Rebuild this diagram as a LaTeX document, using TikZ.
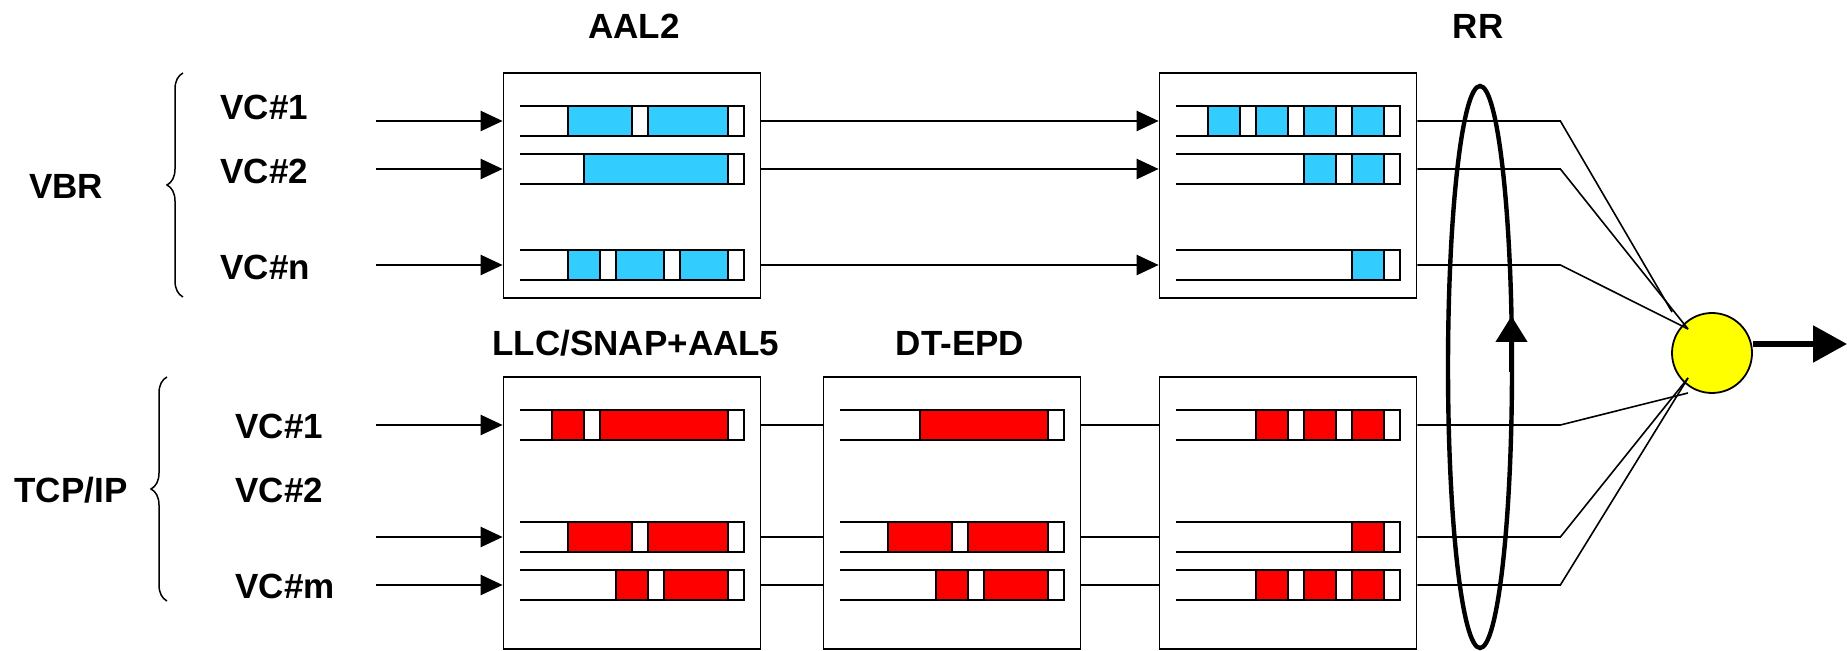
\documentclass[tikz,border=0pt]{standalone}
\usepackage{fontspec}
\setmainfont{Liberation Sans}
\usepackage{tikz}
\usetikzlibrary{arrows.meta,positioning,calc,decorations.pathreplacing}

\definecolor{cellblue}{HTML}{33CCFF}
\definecolor{cellred}{HTML}{FF0000}
\definecolor{muxyellow}{HTML}{FFFF00}

% buffer: right end x, centre y, busy cells as from/to (counted from the right), fill
\newcommand{\drawbuf}[4]{%
  \foreach \a/\b in {#3}
    \draw[cell,fill=#4] (#1-16*\a,#2-15) rectangle (#1-16*\b,#2+15);
  \draw[bufline] (#1-224,#2-15) -- (#1,#2-15) -- (#1,#2+15) -- (#1-224,#2+15);
}

\begin{document}
\begin{tikzpicture}[x=0.5pt,y=-0.5pt,
    lbl/.style={font=\bfseries\fontsize{17.5pt}{21pt}\selectfont,text height=12.5pt,text depth=0pt,inner sep=0pt},
    blk/.style={draw,line width=0.85pt,minimum width=128.5pt,inner sep=0pt},
    cell/.style={draw,line width=0.9pt},
    bufline/.style={line width=1.35pt},
    feed/.style={line width=1.15pt},
    into/.style={feed,-{Triangle[length=11pt,width=10pt]}},
    fan/.style={line width=0.8pt}]

    \useasboundingbox (0,0) rectangle (1847,651);

    % traffic classes
    \node[lbl] (vbr) at (66,186) {VBR};
    \node[lbl] (tcp) at (71,490) {TCP/IP};
    \draw[decorate,decoration={brace,amplitude=8pt},line width=0.75pt] (183,297) -- (183,73);
    \draw[decorate,decoration={brace,amplitude=8pt},line width=0.75pt] (167,601) -- (167,377);

    \node[lbl,anchor=west] (va1) at (220,107) {VC\#1};
    \node[lbl,anchor=west] (va2) at (220,171) {VC\#2};
    \node[lbl,anchor=west] (van) at (220,267) {VC\#n};
    \node[lbl,anchor=west] (vb1) at (235,426) {VC\#1};
    \node[lbl,anchor=west] (vb2) at (235,490) {VC\#2};
    \node[lbl,anchor=west] (vbm) at (235,586) {VC\#m};

    % stages
    \node[blk,minimum height=112.5pt] (aal2) at (632,185.5) {};
    \node[blk,minimum height=112.5pt] (rrv)  at (1288,185.5) {};
    \node[blk,minimum height=136pt]   (llc)  at (632,513) {};
    \node[blk,minimum height=136pt]   (epd)  at (952,513) {};
    \node[blk,minimum height=136pt]   (rrt)  at (1288,513) {};

    \node[lbl] (aal2lbl) at (634,26) {AAL2};
    \node[lbl] (rrlbl)   at (1478,26) {RR};
    \node[lbl] (llclbl)  at (636,343) {LLC/SNAP+AAL5};
    \node[lbl] (epdlbl)  at (960,343) {DT-EPD};

    % buffers
    \drawbuf{744}{121}{11/7,6/1}{cellblue}
    \drawbuf{744}{169}{10/1}{cellblue}
    \drawbuf{744}{265}{11/9,8/5,4/1}{cellblue}
    \drawbuf{1400}{121}{12/10,9/7,6/4,3/1}{cellblue}
    \drawbuf{1400}{169}{6/4,3/1}{cellblue}
    \drawbuf{1400}{265}{3/1}{cellblue}

    \drawbuf{744}{425}{12/10,9/1}{cellred}
    \drawbuf{744}{537}{11/7,6/1}{cellred}
    \drawbuf{744}{585}{8/6,5/1}{cellred}
    \drawbuf{1064}{425}{9/1}{cellred}
    \drawbuf{1064}{537}{11/7,6/1}{cellred}
    \drawbuf{1064}{585}{8/6,5/1}{cellred}
    \drawbuf{1400}{425}{9/7,6/4,3/1}{cellred}
    \drawbuf{1400}{537}{3/1}{cellred}
    \drawbuf{1400}{585}{9/7,6/4,3/1}{cellred}

    % connections
    \coordinate (a1) at (376,121);
    \coordinate (a2) at (376,169);
    \coordinate (a3) at (376,265);
    \coordinate (b1) at (376,425);
    \coordinate (b2) at (376,537);
    \coordinate (b3) at (376,585);

    \foreach \r in {a1,a2,a3} {
        \draw[into] (\r) -- (\r -| aal2.west);
        \draw[into] (\r -| aal2.east) -- (\r -| rrv.west);
    }
    \foreach \r in {b1,b2,b3} {
        \draw[into] (\r) -- (\r -| llc.west);
        \draw[feed] (\r -| llc.east) -- (\r -| epd.west);
        \draw[feed] (\r -| epd.east) -- (\r -| rrt.west);
    }

    % round robin
    \draw[line width=2.2pt] (1480,367) ellipse (32 and 281);
    \draw[line width=2.2pt,-{Triangle[length=13pt,width=15.5pt]}] (1511.5,372) -- (1511.5,316);

    % multiplexer and output
    \node[circle,draw,fill=muxyellow,line width=0.9pt,minimum size=40pt,inner sep=0pt] (mux) at (1712,353) {};
    \coordinate (out) at (1847,344);
    \draw[line width=2.75pt,-{Triangle[length=17pt,width=18pt]}] ([yshift=4.5pt]mux.east) -- (out);

    \coordinate (m1) at (1672,312);
    \coordinate (m2) at (1688,329);
    \coordinate (m3) at (1688,378);
    \coordinate (m4) at (1688,393);
    \foreach \r/\m in {a1/m1,a2/m2,a3/m2}
        \draw[fan] (\r -| rrv.east) -- ++(143,0) -- (\m);
    \foreach \r/\m in {b1/m4,b2/m3,b3/m3}
        \draw[fan] (\r -| rrt.east) -- ++(143,0) -- (\m);
\end{tikzpicture}
\end{document}
